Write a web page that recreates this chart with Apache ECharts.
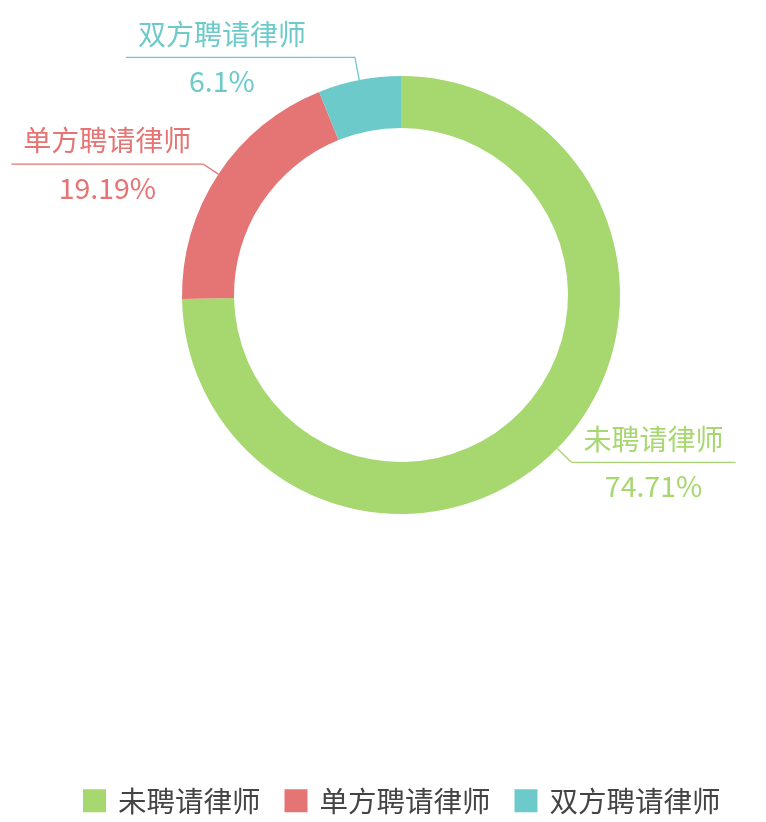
<!DOCTYPE html>
<html>
<head>
<meta charset="utf-8">
<script src="https://cdn.jsdelivr.net/npm/echarts@6/dist/echarts.min.js"></script>
<style>
html,body{margin:0;padding:0;background:#fff;}
#main{width:766px;height:822px;}
</style>
</head>
<body>
<div id="main"></div>
<script>
	/** 数据 **/
	var names = ['未聘请律师', '单方聘请律师', '双方聘请律师'];
	var values = [74.71, 19.19, 6.1];
	var colors = ['#a7d76f', '#e57574', '#6ccbca'];

	/** 各标签引导线长度（第一段、第二段） **/
	var lineLen = [20, 18, 23];
	var lineLen2 = [0, 0, 37];

	var chart = echarts.init(document.getElementById('main'));

	var seriesData = [];
	for (var i = 0; i < names.length; i++) {
		seriesData.push({
			name: names[i],
			value: values[i],
			labelLine: {length: lineLen[i], length2: lineLen2[i]},
			label: {
				rich: {
					b: {color: colors[i]},
					hr: {borderColor: colors[i]},
					per: {color: colors[i]}
				}
			}
		});
	}

	var option = {
		color: colors,
		textStyle: {fontFamily: '"Noto Sans CJK SC", sans-serif'},
		legend: {
			data: names,
			left: 78,
			bottom: 2,
			itemWidth: 23,
			itemHeight: 23,
			itemGap: 24,
			icon: 'rect',
			textStyle: {
				fontSize: 28.5,
				color: '#444',
				padding: [0, 0, 0, 7],
				fontFamily: '"Noto Sans CJK SC", sans-serif'
			}
		},
		series: [
			{
				type: 'pie',
				center: [401, 295],
				radius: [167, 219],
				startAngle: 90,
				silent: true,
				label: {
					show: true,
					distanceToLabelLine: 0,
					formatter: '{b|{b}}\n{hr|}\n{per|{d}%}',
					rich: {
						b: {
							fontSize: 28,
							lineHeight: 47,
							padding: [0, 12],
							align: 'center',
							fontFamily: '"Noto Sans CJK SC", sans-serif'
						},
						hr: {
							width: '100%',
							height: 0,
							borderWidth: 1.3
						},
						per: {
							fontSize: 28.5,
							lineHeight: 47,
							align: 'center',
							fontFamily: '"Noto Sans CJK SC", sans-serif'
						}
					}
				},
				labelLine: {
					length: 15,
					length2: 0,
					lineStyle: {width: 1.3}
				},
				data: seriesData
			}
		]
	};
	chart.setOption(option);
</script>
</body>
</html>
